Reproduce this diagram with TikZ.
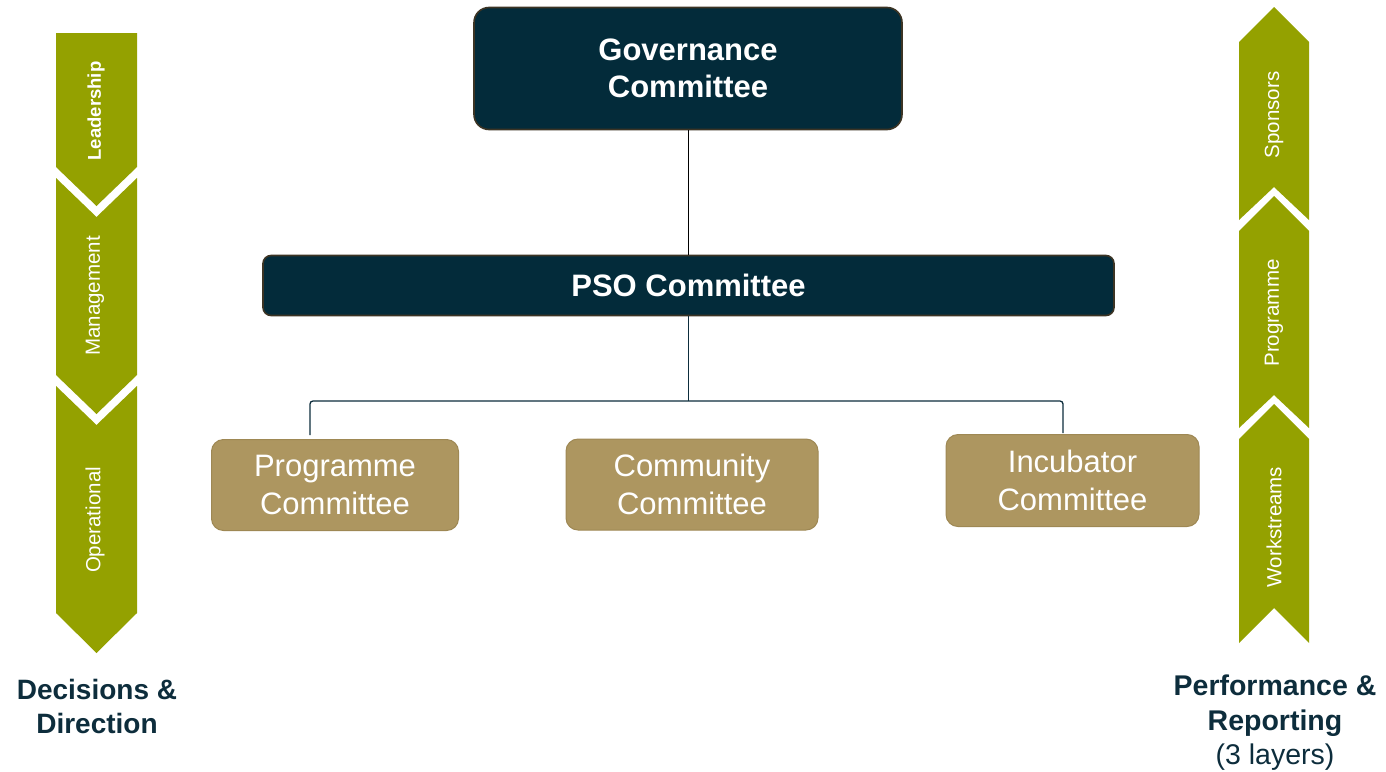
\documentclass[tikz,border=0pt]{standalone}
\usepackage{fontspec}
\setmainfont{Liberation Sans}
\usetikzlibrary{positioning}

\definecolor{navy}{RGB}{3,43,58}
\definecolor{navyedge}{RGB}{60,52,36}
\definecolor{tan}{RGB}{173,150,96}
\definecolor{tanedge}{RGB}{158,136,84}
\definecolor{olive}{RGB}{148,161,0}
\definecolor{inkblue}{RGB}{13,45,60}

\begin{document}
\begin{tikzpicture}[x=1pt,y=-1pt,
 topbox/.style ={draw=navyedge,line width=1.6pt,fill=navy,rounded corners=15pt,
   text=white,align=center,font=\fontsize{31}{37}\selectfont\bfseries},
 subbox/.style ={draw=tanedge,line width=1pt,fill=tan,rounded corners=12pt,
   text=white,align=center,font=\fontsize{31}{38}\selectfont},
 band/.style ={fill=olive},
 bandtext/.style ={text=white,rotate=90,font=\fontsize{20.5}{21}\selectfont},
 link/.style ={-,draw=inkblue,line width=1.3pt},
 trunk/.style ={-,draw=black,line width=0.8pt},
 footnote/.style ={text=inkblue,align=center,font=\fontsize{28.5}{34.5}\selectfont}
 ]
\useasboundingbox (0,0) rectangle (1386,771);
%draw committees
\node[topbox,minimum width=428pt,minimum height=122pt] (gov) at (688,68.5) {Governance\\Committee};
\node[topbox,minimum width=851pt,minimum height=60pt,rounded corners=8pt] (pso) at (688.5,285.5) {PSO Committee};
\node[subbox,minimum width=247pt,minimum height=91pt] (prog) at (335,485) {Programme\\Committee};
\node[subbox,minimum width=252pt,minimum height=91pt] (comm) at (692,484.5) {Community\\Committee};
\node[subbox,minimum width=253pt,minimum height=92pt] (incu) at (1072.5,480.5) {Incubator\\Committee};
%draw reporting lines
\coordinate (busL) at (310,401);
\coordinate (busR) at (1063,401);
\draw[trunk] (gov.south) -- (gov.south |- pso.north);
\draw[link] (pso.south) -- (pso.south |- busL);
\draw[link,rounded corners=3pt] ([xshift=-25pt,yshift=4pt]prog.north) -- (busL) -- (busR) -- ([xshift=-9.5pt,yshift=1pt]incu.north);
%draw left chevrons
\fill[band] (56,33) -- (137,33) -- (137,167) -- (96.5,206) -- (56,167) -- cycle;
\node[bandtext,font=\fontsize{18.5}{20}\selectfont\bfseries] (lead) at (96,111) {Leadership};
\fill[band] (56,178) -- (96.5,217) -- (137,178) -- (137,375) -- (96.5,414) -- (56,375) -- cycle;
\node[bandtext] (mgmt) at (95,296) {Management};
\fill[band] (56,386) -- (96.5,425) -- (137,386) -- (137,613) -- (96.5,653) -- (56,613) -- cycle;
\node[bandtext] (oper) at (95,520) {Operational};
%draw right chevrons
\fill[band] (1274,7) -- (1309,42) -- (1309,220) -- (1274,187) -- (1239,220) -- (1239,42) -- cycle;
\node[bandtext] (spon) at (1274,115) {Sponsors};
\fill[band] (1274,196) -- (1309,231) -- (1309,428) -- (1274,395) -- (1239,428) -- (1239,231) -- cycle;
\node[bandtext] (prgm) at (1274,313) {Programme};
\fill[band] (1274,404) -- (1309,439) -- (1309,643) -- (1274,608) -- (1239,643) -- (1239,439) -- cycle;
\node[bandtext] (work) at (1274,527) {Workstreams};
%draw captions
\node[footnote,font=\fontsize{28}{34}\selectfont\bfseries] (decide) at (97,706) {Decisions \&\\Direction};
\node[footnote] (report) at (1275,723) {\textbf{Performance \&}\\\textbf{Reporting}\\(3 layers)};
\end{tikzpicture}
\end{document}
